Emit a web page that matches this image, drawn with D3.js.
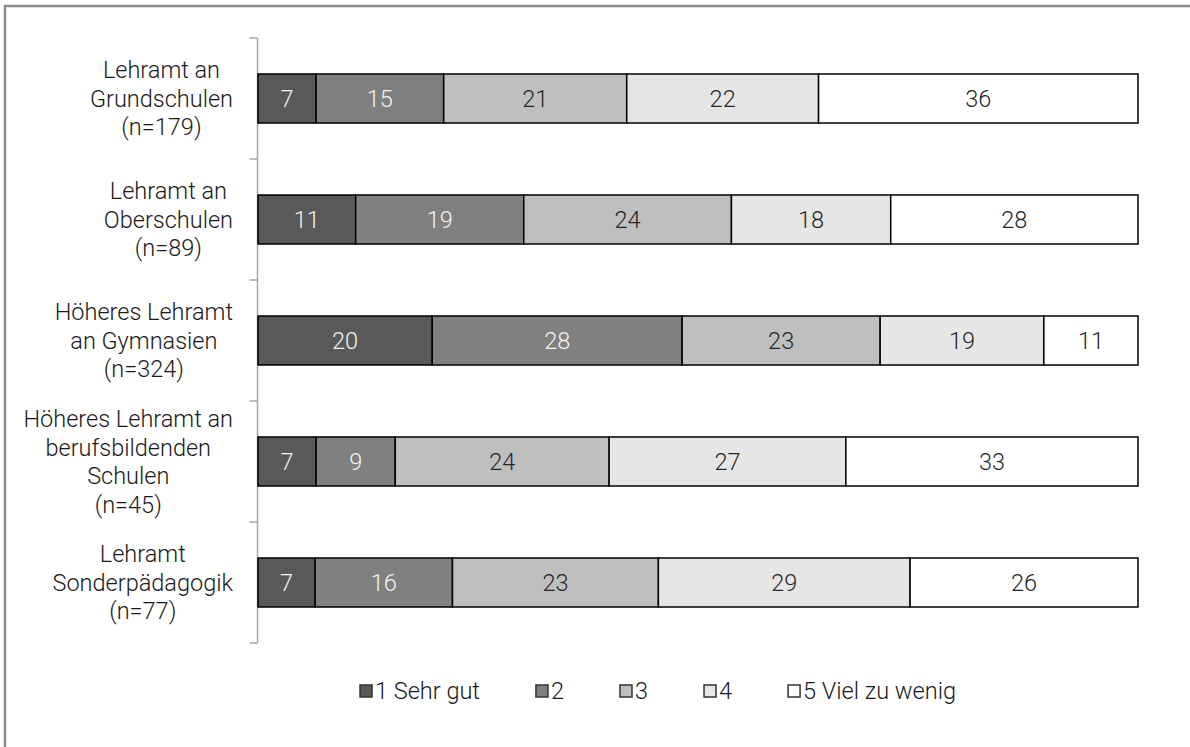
<!DOCTYPE html>
<html>
<head>
<meta charset="utf-8">
<script src="https://cdn.jsdelivr.net/npm/d3@7"></script>
<style>
  body { margin: 0; background: #fff; }
  svg { display: block; }
  text { font-family: Roboto, "Liberation Sans", sans-serif; }
</style>
</head>
<body>
<div class="chart"></div>
<script>
// categories (one entry per bar, lines as drawn)
var categories = [
    ["Lehramt an", "Grundschulen", "(n=179)"],
    ["Lehramt an", "Oberschulen", "(n=89)"],
    ["Höheres Lehramt", "an Gymnasien", "(n=324)"],
    ["Höheres Lehramt an", "berufsbildenden", "Schulen", "(n=45)"],
    ["Lehramt", "Sonderpädagogik", "(n=77)"]
];
var seriesNames = ["1 Sehr gut", "2", "3", "4", "5 Viel zu wenig"];
// percentages per series, in category order
var sehrGut     = [6.6, 11.1, 19.8, 6.6, 6.5];
var note2       = [14.5, 19.1, 28.4, 9.0, 15.6];
var note3       = [20.8, 23.6, 22.5, 24.3, 23.4];
var note4       = [21.8, 18.1, 18.6, 26.9, 28.6];
var vielZuWenig = [36.3, 28.1, 10.7, 33.2, 25.9];

var colors = ["#595959", "#808080", "#bfbfbf", "#e6e6e6", "#ffffff"];
var labelColors = ["#f2f2f2", "#f2f2f2", "#262626", "#262626", "#262626"];

var w = 1190, h = 747;
var plotLeft = 258, plotRight = 1138, plotTop = 38, plotBottom = 643;
var fontSize = 23.5;
var fontWeight = 300;

var svg = d3.select(".chart").append("svg")
    .attr("width", w)
    .attr("height", h);

// outer frame (runs off the right and bottom edge)
svg.append("rect")
    .attr("x", 5).attr("y", 6)
    .attr("width", 1300).attr("height", 900)
    .attr("fill", "none")
    .attr("stroke", "#8c8c8c")
    .attr("stroke-width", 2.5);

var rows = categories.map(function(c, i) {
    return { i: i, s0: sehrGut[i], s1: note2[i], s2: note3[i], s3: note4[i], s4: vielZuWenig[i] };
});
var keys = ["s0", "s1", "s2", "s3", "s4"];
var stacked = d3.stack().keys(keys)(rows);

var xScale = d3.scaleLinear().domain([0, 100]).range([plotLeft, plotRight]);
var yScale = d3.scaleBand()
    .domain(d3.range(categories.length))
    .range([plotTop, plotBottom])
    .paddingInner(0.595)
    .paddingOuter(0.2975);

// category axis: line + ticks on band boundaries
var axisX = 257.5;
svg.append("line")
    .attr("x1", axisX).attr("x2", axisX)
    .attr("y1", plotTop).attr("y2", plotBottom)
    .attr("stroke", "#a6a6a6").attr("stroke-width", 1.5);
var step = (plotBottom - plotTop) / categories.length;
d3.range(categories.length + 1).forEach(function(k) {
    svg.append("line")
        .attr("x1", axisX - 8).attr("x2", axisX)
        .attr("y1", plotTop + k * step).attr("y2", plotTop + k * step)
        .attr("stroke", "#a6a6a6").attr("stroke-width", 1.5);
});

// bars
var groups = svg.selectAll("g.series")
    .data(stacked)
    .enter()
    .append("g")
    .attr("class", "series");

groups.selectAll("rect")
    .data(function(d) { return d.map(function(v) { return { v: v, k: d.index }; }); })
    .enter()
    .append("rect")
    .attr("x", function(d) { return xScale(d.v[0]); })
    .attr("y", function(d) { return yScale(d.v.data.i); })
    .attr("width", function(d) { return xScale(d.v[1]) - xScale(d.v[0]); })
    .attr("height", yScale.bandwidth())
    .attr("fill", function(d) { return colors[d.k]; })
    .attr("stroke", "#000")
    .attr("stroke-width", 1.5);

groups.selectAll("text")
    .data(function(d) { return d.map(function(v) { return { v: v, k: d.index }; }); })
    .enter()
    .append("text")
    .attr("x", function(d) { return (xScale(d.v[0]) + xScale(d.v[1])) / 2; })
    .attr("y", function(d) { return yScale(d.v.data.i) + yScale.bandwidth() / 2; })
    .attr("dy", "0.36em")
    .attr("text-anchor", "middle")
    .attr("font-size", fontSize)
    .attr("font-weight", fontWeight)
    .attr("fill", function(d) { return labelColors[d.k]; })
    .text(function(d) { return Math.round(d.v[1] - d.v[0]); });

// category labels: lines centred in a block whose right edge sits at 233
var lineH = 28.5;
categories.forEach(function(lines, i) {
    var g = svg.append("g");
    var cy = yScale(i) + yScale.bandwidth() / 2;
    var t = g.selectAll("text")
        .data(lines)
        .enter()
        .append("text")
        .attr("font-size", fontSize)
        .attr("font-weight", fontWeight)
        .attr("fill", "#1a1a1a")
        .attr("text-anchor", "middle")
        .attr("y", function(d, j) { return cy + (j - (lines.length - 1) / 2) * lineH; })
        .attr("dy", "0.36em")
        .text(function(d) { return d; });
    var maxW = 0;
    t.each(function() { maxW = Math.max(maxW, this.getComputedTextLength()); });
    t.attr("x", 233 - maxW / 2);
});

// legend
var legend = svg.append("g");
var lx = 0, legendY = 691, gap = 56;
seriesNames.forEach(function(name, i) {
    legend.append("rect")
        .attr("x", lx).attr("y", legendY - 6)
        .attr("width", 12).attr("height", 12)
        .attr("fill", colors[i])
        .attr("stroke", "#333").attr("stroke-width", 1.5);
    var t = legend.append("text")
        .attr("x", lx + 15).attr("y", legendY)
        .attr("dy", "0.36em")
        .attr("font-size", fontSize)
        .attr("font-weight", fontWeight)
        .attr("fill", "#1a1a1a")
        .text(name);
    lx += 15 + t.node().getComputedTextLength() + gap;
});
var legendW = lx - gap;
legend.attr("transform", "translate(" + (658 - legendW / 2) + ",0)");
</script>
</body>
</html>
